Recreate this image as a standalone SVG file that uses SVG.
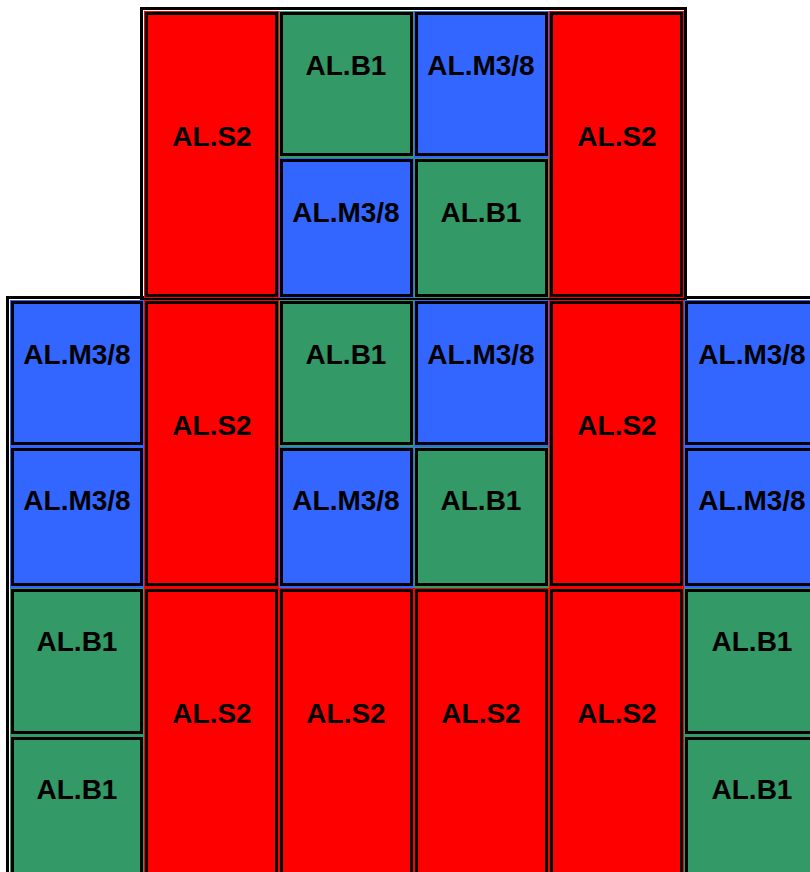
<svg xmlns="http://www.w3.org/2000/svg" width="810" height="872" viewBox="0 0 810 872">
<style>
.r{fill:#ff0000}.g{fill:#339966}.b{fill:#3366ff}
.in{fill:none;stroke:#000;stroke-width:3}
.tb{fill:none;stroke:#000;stroke-width:3}
text{font-family:"Liberation Sans",Arial,sans-serif;font-weight:bold;font-size:28px;fill:#000;text-anchor:middle}
</style>
<rect width="810" height="872" fill="#fff"/>
<g id="tables">
<rect class="tb" x="141.5" y="8.5" width="544" height="290"/>
<rect class="tb" x="7.5" y="297.5" width="900" height="700"/>
</g>
<!-- top table -->
<g id="t-s2-a"><rect class="r" x="144" y="11" width="135" height="287"/><rect class="in" x="146.5" y="13.5" width="130" height="282"/><text x="212" y="146">AL.S2</text></g>
<g id="t-b1-a"><rect class="g" x="279" y="11" width="135" height="147"/><rect class="in" x="281.5" y="13.5" width="130" height="141"/><text x="346" y="75">AL.B1</text></g>
<g id="t-m38-a"><rect class="b" x="414" y="11" width="135" height="147"/><rect class="in" x="416.5" y="13.5" width="130" height="141"/><text x="481" y="75">AL.M3/8</text></g>
<g id="t-s2-b"><rect class="r" x="549" y="11" width="135" height="287"/><rect class="in" x="551.5" y="13.5" width="130" height="282"/><text x="617" y="146">AL.S2</text></g>
<g id="t-m38-b"><rect class="b" x="279" y="158" width="135" height="140"/><rect class="in" x="281.5" y="160.5" width="130" height="135"/><text x="346" y="222">AL.M3/8</text></g>
<g id="t-b1-b"><rect class="g" x="414" y="158" width="135" height="140"/><rect class="in" x="416.5" y="160.5" width="130" height="135"/><text x="481" y="222">AL.B1</text></g>
<!-- bottom table row 1-2 -->
<g id="b-m38-1"><rect class="b" x="10" y="300" width="134" height="147"/><rect class="in" x="12.5" y="302.5" width="129" height="141"/><text x="77" y="364">AL.M3/8</text></g>
<g id="b-s2-1"><rect class="r" x="144" y="300" width="135" height="288"/><rect class="in" x="146.5" y="302.5" width="130" height="282"/><text x="212" y="435">AL.S2</text></g>
<g id="b-b1-1"><rect class="g" x="279" y="300" width="135" height="147"/><rect class="in" x="281.5" y="302.5" width="130" height="141"/><text x="346" y="364">AL.B1</text></g>
<g id="b-m38-2"><rect class="b" x="414" y="300" width="135" height="147"/><rect class="in" x="416.5" y="302.5" width="130" height="141"/><text x="481" y="364">AL.M3/8</text></g>
<g id="b-s2-2"><rect class="r" x="549" y="300" width="135" height="288"/><rect class="in" x="551.5" y="302.5" width="130" height="282"/><text x="617" y="435">AL.S2</text></g>
<g id="b-m38-3"><rect class="b" x="684" y="300" width="135" height="147"/><rect class="in" x="686.5" y="302.5" width="130" height="141"/><text x="752" y="364">AL.M3/8</text></g>
<g id="b-m38-4"><rect class="b" x="10" y="447" width="134" height="141"/><rect class="in" x="12.5" y="449.5" width="129" height="135"/><text x="77" y="510">AL.M3/8</text></g>
<g id="b-m38-5"><rect class="b" x="279" y="447" width="135" height="141"/><rect class="in" x="281.5" y="449.5" width="130" height="135"/><text x="346" y="510">AL.M3/8</text></g>
<g id="b-b1-2"><rect class="g" x="414" y="447" width="135" height="141"/><rect class="in" x="416.5" y="449.5" width="130" height="135"/><text x="481" y="510">AL.B1</text></g>
<g id="b-m38-6"><rect class="b" x="684" y="447" width="135" height="141"/><rect class="in" x="686.5" y="449.5" width="130" height="135"/><text x="752" y="510">AL.M3/8</text></g>
<!-- rows 3-4 -->
<g id="b-b1-3"><rect class="g" x="10" y="588" width="134" height="148"/><rect class="in" x="12.5" y="590.5" width="129" height="142"/><text x="77" y="651">AL.B1</text></g>
<g id="b-s2-3"><rect class="r" x="144" y="588" width="135" height="300"/><rect class="in" x="146.5" y="590.5" width="130" height="295"/><text x="212" y="723">AL.S2</text></g>
<g id="b-s2-4"><rect class="r" x="279" y="588" width="135" height="300"/><rect class="in" x="281.5" y="590.5" width="130" height="295"/><text x="346" y="723">AL.S2</text></g>
<g id="b-s2-5"><rect class="r" x="414" y="588" width="135" height="300"/><rect class="in" x="416.5" y="590.5" width="130" height="295"/><text x="481" y="723">AL.S2</text></g>
<g id="b-s2-6"><rect class="r" x="549" y="588" width="135" height="300"/><rect class="in" x="551.5" y="590.5" width="130" height="295"/><text x="617" y="723">AL.S2</text></g>
<g id="b-b1-4"><rect class="g" x="684" y="588" width="135" height="148"/><rect class="in" x="686.5" y="590.5" width="130" height="142"/><text x="752" y="651">AL.B1</text></g>
<g id="b-b1-5"><rect class="g" x="10" y="736" width="134" height="150"/><rect class="in" x="12.5" y="738.5" width="129" height="145"/><text x="77" y="799">AL.B1</text></g>
<g id="b-b1-6"><rect class="g" x="684" y="736" width="135" height="150"/><rect class="in" x="686.5" y="738.5" width="130" height="145"/><text x="752" y="799">AL.B1</text></g>
<g id="connectors"></g>
</svg>
